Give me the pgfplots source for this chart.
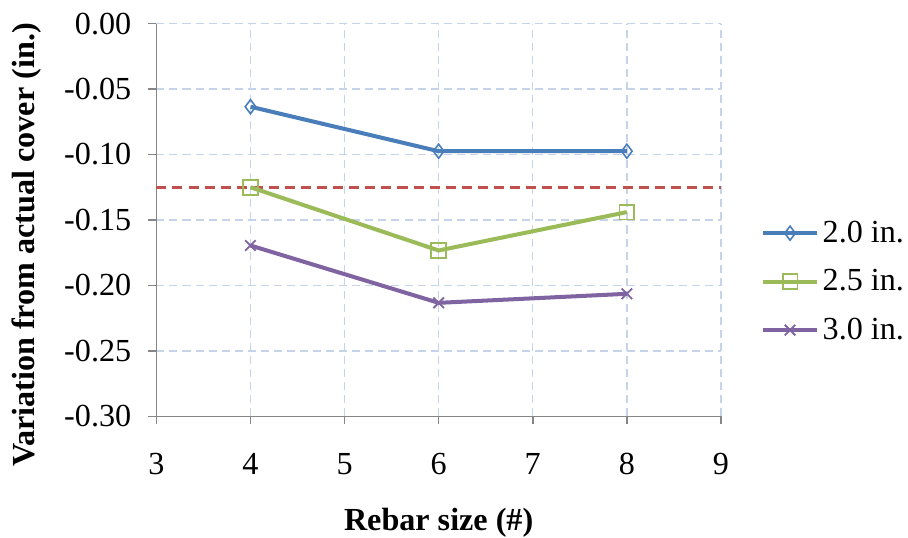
\documentclass[border=0pt]{standalone}
\usepackage{fontspec}
\setmainfont{Liberation Serif}
\usepackage{pgfplots}
\pgfplotsset{compat=1.18}
\definecolor{cblue}{HTML}{4A7EBB}
\definecolor{cgreen}{HTML}{9BBB59}
\definecolor{cpurple}{HTML}{8064A2}
\definecolor{cred}{HTML}{C0504D}
\definecolor{cgrid}{HTML}{C6D4EA}
\definecolor{caxis}{HTML}{868686}
\begin{document}
\begin{tikzpicture}
\begin{axis}[
  scale only axis,
  width=281pt, height=195.5pt,
  xmin=3, xmax=9, ymin=-0.30, ymax=0,
  xtick={3,4,...,9},
  ytick={-0.30,-0.25,...,0.001},
  axis lines*=left,
  axis line style={caxis, line width=0.8pt},
  tick style={caxis, line width=0.8pt},
  tick align=outside,
  major tick length=4pt,
  grid=major,
  major grid style={cgrid, dash pattern=on 4pt off 2.5pt, line width=0.7pt},
  font=\fontsize{16}{18}\selectfont,
  /pgf/number format/assume math mode=true,
  yticklabel style={/pgf/number format/fixed, /pgf/number format/fixed zerofill, /pgf/number format/precision=2, xshift=-5pt, inner ysep=6.3pt},
  xticklabel style={yshift=-11pt},
  xlabel={\textbf{Rebar size (\#)}},
  ylabel={\textbf{Variation from actual cover (in.)}},
  xlabel style={at={(axis description cs:0.5,-0.2916)}, anchor=base, font=\fontsize{16}{18}\selectfont, inner ysep=0pt},
  ylabel style={at={(axis description cs:-0.2295,0.436)}, anchor=center, font=\fontsize{16}{18}\selectfont, inner ysep=6pt, inner xsep=0pt},
  legend style={at={(1.071,0.343)}, anchor=west, draw=none, fill=none,
    row sep=8pt, font=\fontsize{16}{18}\selectfont, inner xsep=0pt},
  legend cell align=left,
  legend image code/.code={\draw[mark repeat=2,mark phase=2] plot coordinates {(0pt,0pt) (13.25pt,0pt) (26.5pt,0pt)};},
  clip=false,
]
\addplot[cred, dash pattern=on 5pt off 3pt, line width=1.3pt, forget plot] coordinates {(3,-0.125) (9,-0.125)};
\addplot[cblue, line width=2pt, mark=diamond, mark size=3.5pt, mark options={solid, line width=0.8pt}] coordinates {(4,-0.0635) (6,-0.0975) (8,-0.0975)};
\addlegendentry{2.0 in.}
\addplot[cgreen, line width=2pt, mark=square, mark size=3.7pt, mark options={solid, line width=0.9pt}] coordinates {(4,-0.125) (6,-0.1733) (8,-0.144)};
\addlegendentry{2.5 in.}
\addplot[cpurple, line width=2pt, mark=x, mark size=3.7pt, mark options={solid, line width=0.9pt}] coordinates {(4,-0.1695) (6,-0.2133) (8,-0.2064)};
\addlegendentry{3.0 in.}
\end{axis}
\end{tikzpicture}
\end{document}
